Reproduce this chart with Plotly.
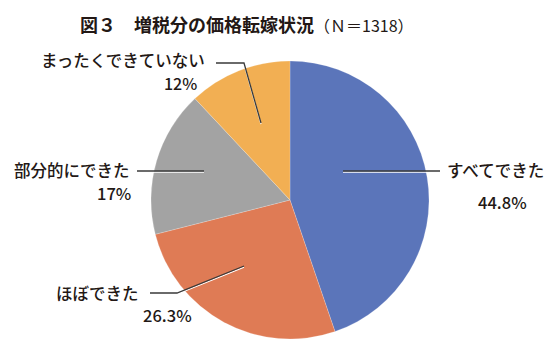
import plotly.graph_objects as go

categories = ["すべてできた", "ほぼできた", "部分的にできた", "まったくできていない"]
values = [44.8, 26.3, 17, 12]
pct_labels = ["44.8%", "26.3%", "17%", "12%"]
colors = ["#5B75BA", "#DF7B55", "#A3A3A3", "#F2AF53"]

W, H = 560, 360
FONT = "Noto Sans CJK JP Medium, Noto Sans CJK JP"
TXT = "#231815"

def P(x, y):
    return x / W, 1 - y / H

fig = go.Figure()
fig.add_trace(go.Pie(
    labels=categories, values=values, sort=False, direction="clockwise",
    rotation=0, textinfo="none", hoverinfo="label+percent",
    marker=dict(colors=colors, line=dict(color="rgba(255,255,255,0.4)", width=0.5)),
    domain=dict(x=[151 / W, 429 / W], y=[1 - 339 / H, 1 - 61 / H]),
    showlegend=False,
))

# leader lines (pixel paths)
leaders = [
    [(343, 171), (440, 171)],
    [(137, 171), (204, 171)],
    [(216, 63), (244, 63), (261, 123)],
    [(150, 293), (177, 293), (244, 266)],
]
shapes = []
for pts in leaders:
    for dy, col, w in [(1.2, "white", 1.2), (0, "#3a3a3a", 1.3)]:
        path = ""
        for i, (x, y) in enumerate(pts):
            px, py = P(x, y + dy)
            path += ("M" if i == 0 else "L") + f"{px:.5f},{py:.5f} "
        shapes.append(dict(type="path", xref="paper", yref="paper", path=path,
                           line=dict(color=col, width=w)))

anns = []
def lab(text, x, y, anchor, size=16.5):
    px, py = P(x, y)
    anns.append(dict(text=text, x=px, y=py, xref="paper", yref="paper",
                     xanchor=anchor, yanchor="middle", showarrow=False,
                     font=dict(family=FONT, size=size, color=TXT)))

lab(categories[0], 445, 170, "left")
lab(pct_labels[0], 502, 202, "center", 16.5)
lab(categories[1], 141, 293, "right")
lab(pct_labels[1], 167, 315, "center", 16.5)
lab(categories[2], 132, 170, "right")
lab(pct_labels[2], 114, 193, "center", 16.5)
lab(categories[3], 207, 60, "right")
lab(pct_labels[3], 180, 83, "center", 16)

tx, ty = P(78, 24)
anns.append(dict(
    text="<b>図３　増税分の価格転嫁状況</b><span style='font-size:16px'>（Ｎ＝1318）</span>",
    x=tx, y=ty, xref="paper", yref="paper", xanchor="left", yanchor="middle",
    showarrow=False, font=dict(family="Noto Sans CJK JP", size=18, color=TXT)))

fig.update_layout(
    width=W, height=H, margin=dict(l=0, r=0, t=0, b=0),
    paper_bgcolor="white", plot_bgcolor="white",
    shapes=shapes, annotations=anns,
)
fig.write_html("out.html", config={"displayModeBar": False},
               post_script="document.body.style.margin='0';")
